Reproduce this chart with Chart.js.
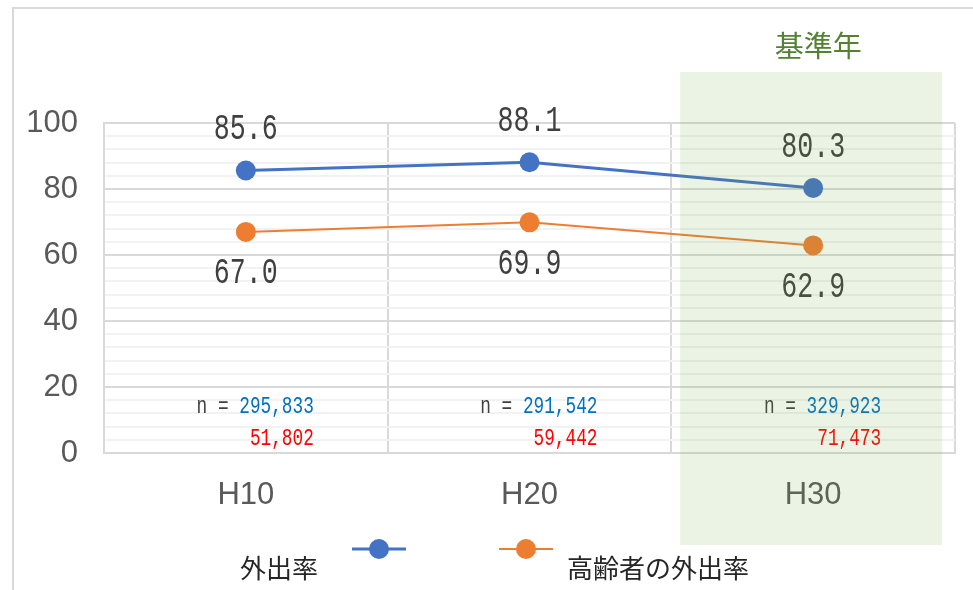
<!DOCTYPE html>
<html>
<head>
<meta charset="utf-8">
<script src="https://cdn.jsdelivr.net/npm/chart.js@4.4.1/dist/chart.umd.min.js"></script>
<style>
  html, body { margin: 0; padding: 0; background: #ffffff; }
  #wrap { width: 973px; height: 590px; }
</style>
</head>
<body>
<div id="wrap"><canvas id="rateChart" width="973" height="590"></canvas></div>
<script>
'use strict';

// data
const CATEGORIES = ['H10', 'H20', 'H30'];
const OUTING_RATE = [85.6, 88.1, 80.3];
const ELDERLY_RATE = [67.0, 69.9, 62.9];
const N_ALL = [295833, 291542, 329923];
const N_ELDERLY = [51802, 59442, 71473];
const Y_LABELS = [0, 20, 40, 60, 80, 100];
const SERIES_NAMES = ['外出率', '高齢者の外出率'];
const BASE_YEAR = 'H30';
const BASE_LABEL = '基準年';

const BLUE = '#4472C4';
const ORANGE = '#ED7D31';
const JP_FONT = '"Noto Sans CJK JP", "Noto Sans", sans-serif';
const MONO_FONT = '"Liberation Mono", "DejaVu Sans Mono", monospace';

// condensed monospace text, like the numbers in the original
let monoText = (ctx, str, x, y, size, color, align) => {
    ctx.save();
    ctx.font = size + 'px ' + MONO_FONT;
    ctx.fillStyle = color;
    ctx.textBaseline = 'middle';
    ctx.textAlign = align;
    ctx.translate(x, y);
    ctx.scale(0.74, 1);
    ctx.fillText(str, 0, 0);
    ctx.restore();
    ctx.save();
    ctx.font = size + 'px ' + MONO_FONT;
    const w = ctx.measureText(str).width * 0.74;
    ctx.restore();
    return w;
};

let fmt = (v) => v.toLocaleString('en-US');

const decorPlugin = {
    id: 'decor',
    beforeDraw(chart) {
        const ctx = chart.ctx;
        ctx.save();
        ctx.strokeStyle = '#D9D9D9';
        ctx.lineWidth = 2;
        ctx.beginPath();
        ctx.moveTo(13, chart.height);
        ctx.lineTo(13, 8);
        ctx.lineTo(chart.width, 8);
        ctx.stroke();
        ctx.restore();
    },
    afterDatasetsDraw(chart) {
        const ctx = chart.ctx;
        const area = chart.chartArea;
        const x = chart.scales.x;
        // value labels
        chart.getDatasetMeta(0).data.forEach((pt, i) => {
            monoText(ctx, OUTING_RATE[i].toFixed(1), pt.x, pt.y - 41, 36, '#404040', 'center');
        });
        chart.getDatasetMeta(1).data.forEach((pt, i) => {
            monoText(ctx, ELDERLY_RATE[i].toFixed(1), pt.x, pt.y + 42, 36, '#404040', 'center');
        });
        // sample sizes
        CATEGORIES.forEach((c, i) => {
            const right = x.getPixelForValue(i) + 68;
            const w = monoText(ctx, fmt(N_ALL[i]), right, area.bottom - 46, 24, '#0070C0', 'right');
            monoText(ctx, 'n = ', right - w, area.bottom - 46, 24, '#404040', 'right');
            monoText(ctx, fmt(N_ELDERLY[i]), right, area.bottom - 14, 24, '#FF0000', 'right');
        });
    },
    afterDraw(chart) {
        const ctx = chart.ctx;
        const area = chart.chartArea;
        const x = chart.scales.x;
        // base-year band
        const cx = x.getPixelForValue(CATEGORIES.indexOf(BASE_YEAR));
        ctx.save();
        ctx.fillStyle = 'rgba(112, 173, 71, 0.14)';
        ctx.fillRect(cx - 133, area.top - 51, 262, area.bottom - area.top + 143);
        ctx.fillStyle = '#548235';
        ctx.font = '29px ' + JP_FONT;
        ctx.textAlign = 'center';
        ctx.textBaseline = 'middle';
        ctx.fillText(BASE_LABEL, cx + 5, 46);
        ctx.restore();

        // legend
        const items = [
            { color: BLUE, width: 3, lx: 352, textX: 240, align: 'left' },
            { color: ORANGE, width: 2, lx: 499, textX: 567, align: 'left' }
        ];
        items.forEach((it, i) => {
            ctx.save();
            ctx.strokeStyle = it.color;
            ctx.lineWidth = it.width;
            ctx.beginPath();
            ctx.moveTo(it.lx, 549);
            ctx.lineTo(it.lx + 54, 549);
            ctx.stroke();
            ctx.fillStyle = it.color;
            ctx.beginPath();
            ctx.arc(it.lx + 27, 549, 10, 0, Math.PI * 2);
            ctx.fill();
            ctx.fillStyle = '#262626';
            ctx.font = '26px ' + JP_FONT;
            ctx.textAlign = it.align;
            ctx.textBaseline = 'middle';
            ctx.fillText(SERIES_NAMES[i], it.textX, 568);
            ctx.restore();
        });
    }
};

const CHART_DOM = document.getElementById('rateChart');
const rateChart = new Chart(CHART_DOM, {
    type: 'line',
    data: {
        labels: CATEGORIES,
        datasets: [{
            label: SERIES_NAMES[0],
            data: OUTING_RATE,
            borderColor: BLUE,
            backgroundColor: BLUE,
            borderWidth: 3,
            pointRadius: 10,
            pointBorderWidth: 0,
            tension: 0
        }, {
            label: SERIES_NAMES[1],
            data: ELDERLY_RATE,
            borderColor: ORANGE,
            backgroundColor: ORANGE,
            borderWidth: 2,
            pointRadius: 10,
            pointBorderWidth: 0,
            tension: 0
        }]
    },
    options: {
        responsive: false,
        animation: false,
        layout: { padding: { top: 123, right: 18, left: 0, bottom: 0 } },
        plugins: {
            legend: { display: false },
            tooltip: { enabled: false }
        },
        scales: {
            x: {
                offset: true,
                grid: { offset: true, color: '#D9D9D9', lineWidth: 2, drawTicks: false },
                border: { color: '#D9D9D9', width: 2 },
                ticks: {
                    color: '#595959',
                    padding: 24,
                    font: { family: '"Liberation Sans Narrow", "Liberation Sans", sans-serif', size: 31 }
                },
                afterFit: (scale) => { scale.height = 137; }
            },
            y: {
                min: 0,
                max: 100,
                grid: {
                    drawTicks: false,
                    lineWidth: 2,
                    color: (c) => (Y_LABELS.includes(c.tick.value) ? '#D9D9D9' : '#F2F2F2')
                },
                border: { color: '#D9D9D9', width: 2 },
                ticks: {
                    stepSize: 4,
                    autoSkip: false,
                    padding: 26,
                    color: '#595959',
                    font: { family: '"Liberation Sans Narrow", "Liberation Sans", sans-serif', size: 31 },
                    callback: (v) => (Y_LABELS.includes(v) ? String(v) : '')
                },
                afterFit: (scale) => { scale.width = 104; }
            }
        }
    },
    plugins: [decorPlugin]
});
</script>
</body>
</html>
